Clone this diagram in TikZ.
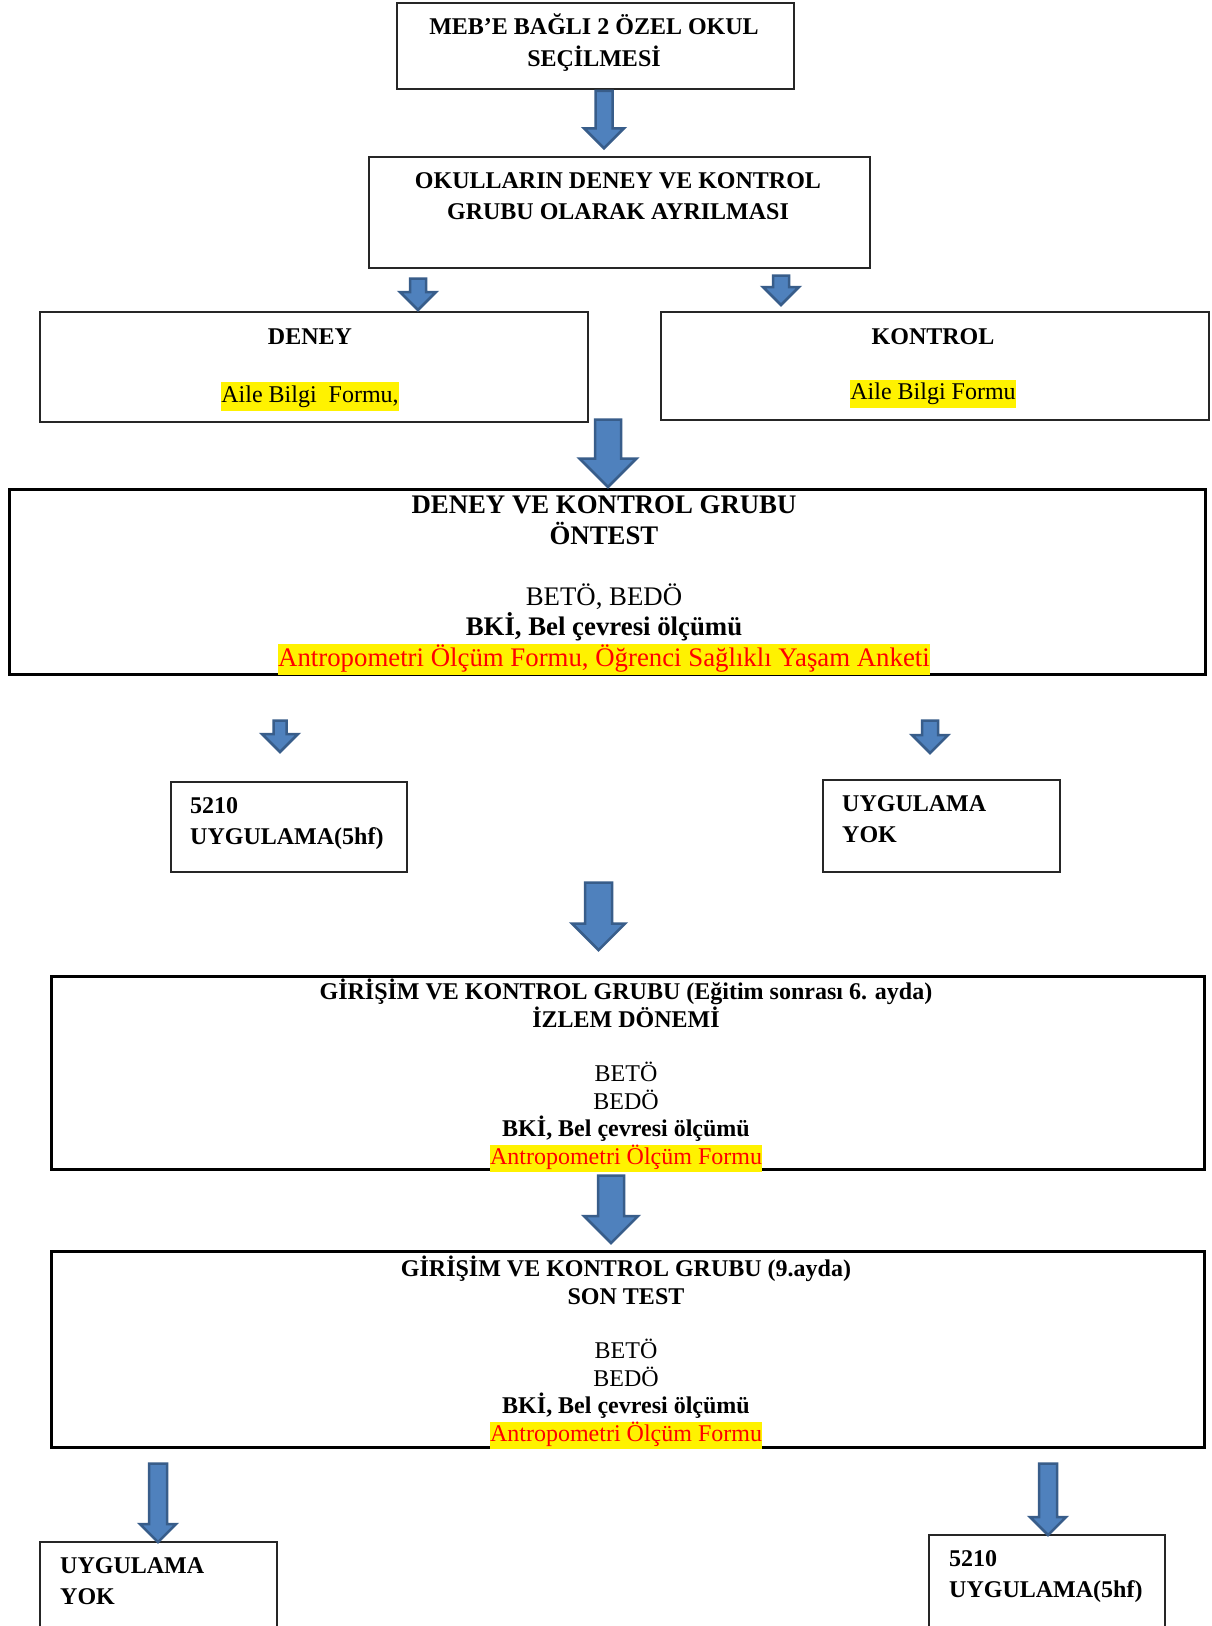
\documentclass[tikz,border=0pt]{standalone}
\usepackage{fontspec}
\setmainfont{Liberation Serif}
\usepackage{xcolor}
\usetikzlibrary{shapes.arrows}
\definecolor{arrfill}{HTML}{4F81BD}
\definecolor{arrline}{HTML}{385D8A}
\setlength{\lineskiplimit}{-100pt}
\newcommand{\yel}[1]{{\setlength{\fboxsep}{0pt}\colorbox{yellow}{\strut #1}}}
\newcommand{\fsA}{\fontsize{24}{32}\selectfont}
\newcommand{\fsB}{\fontsize{24}{31}\selectfont}
\newcommand{\fsC}{\fontsize{24}{29}\selectfont}
\newcommand{\fsD}{\fontsize{24}{27.4}\selectfont}
\newcommand{\fsE}{\fontsize{26.8}{30.5}\selectfont}
\newcommand{\fsF}{\fontsize{24}{31}\selectfont}
\tikzset{
  box/.style={draw=black!85, line width=1.5pt, anchor=north west, inner sep=0pt},
  bigbox/.style={box, draw=black, line width=2.5pt},
  txt/.style={anchor=north, align=center, inner sep=0pt},
  ltxt/.style={anchor=north west, align=left, inner sep=0pt, font=\fsF\bfseries},
  blockarr/.style n args={3}{single arrow, draw=arrline, fill=arrfill, line width=2.5pt,
    rotate=-90, anchor=tail, minimum height=#1, inner sep=#2, single arrow head extend=#3}}

\begin{document}
\begin{tikzpicture}[x=1pt, y=-1pt]
  \clip (0,0) rectangle (1211,1626);
  \fill[white] (0,0) rectangle (1211,1626);

  % boxes
  \node[box, minimum width=397, minimum height=86] (meb) at (396,2) {};
  \node[box, minimum width=501, minimum height=111] (ayr) at (368,156) {};
  \node[box, minimum width=548, minimum height=110] (deney) at (39,311) {};
  \node[box, minimum width=548, minimum height=108] (kontrol) at (660,311) {};
  \node[bigbox, minimum width=1196, minimum height=185] (ontest) at (8,488) {};
  \node[box, minimum width=236, minimum height=90] (uyg) at (170,781) {};
  \node[box, minimum width=237, minimum height=92] (yok) at (822,779) {};
  \node[bigbox, minimum width=1153, minimum height=193] (izlem) at (50,975) {};
  \node[bigbox, minimum width=1153, minimum height=196] (son) at (50,1250) {};
  \node[box, minimum width=237, minimum height=120] (yokb) at (39,1541) {};
  \node[box, minimum width=236, minimum height=120] (uygb) at (928,1534) {};

  % texts
  \node[txt, font=\fsA\bfseries] (mebt) at (594,12) {\strut MEB’E BAĞLI 2 ÖZEL OKUL\\SEÇİLMESİ};
  \node[txt, font=\fsB\bfseries] (ayrt) at (618,167) {\strut OKULLARIN DENEY VE KONTROL\\GRUBU OLARAK AYRILMASI};
  \node[txt, font=\fsC] (deneyt) at (310,324) {\strut\textbf{DENEY}\\ \strut\\ \yel{Aile Bilgi~ Formu,}};
  \node[txt, font=\fontsize{24}{27.5}\selectfont] (kontrolt) at (933,325) {\strut\textbf{KONTROL}\\ \strut\\ \yel{Aile Bilgi Formu}};
  \node[txt, font=\fsE] (ontestt) at (604,492) {\strut\textbf{DENEY VE KONTROL GRUBU}\\ \textbf{ÖNTEST}\\ \strut\\
    BETÖ, BEDÖ\\ \textbf{BKİ, Bel çevresi ölçümü}\\
    \yel{\textcolor{red}{Antropometri Ölçüm Formu, Öğrenci Sağlıklı Yaşam Anketi}}};
  \node[ltxt] (uygt) at (190,792) {\strut 5210\\UYGULAMA(5hf)};
  \node[ltxt] (yokt) at (842,790) {\strut UYGULAMA\\YOK};
  \node[txt, font=\fsD] (izlemt) at (626,979) {\strut\textbf{GİRİŞİM VE KONTROL GRUBU (Eğitim sonrası 6. ayda)}\\
    \textbf{İZLEM DÖNEMİ}\\ \strut\\ BETÖ\\ BEDÖ\\ \textbf{BKİ, Bel çevresi ölçümü}\\
    \yel{\textcolor{red}{Antropometri Ölçüm Formu}}};
  \node[txt, font=\fsD] (sont) at (626,1256) {\strut\textbf{GİRİŞİM VE KONTROL GRUBU (9.ayda)}\\
    \textbf{SON TEST}\\ \strut\\ BETÖ\\ BEDÖ\\ \textbf{BKİ, Bel çevresi ölçümü}\\
    \yel{\textcolor{red}{Antropometri Ölçüm Formu}}};
  \node[ltxt] (yokbt) at (60,1552) {\strut UYGULAMA\\YOK};
  \node[ltxt] (uygbt) at (949,1545) {\strut 5210\\UYGULAMA(5hf)};

  % block arrows
  \node[blockarr={57.5}{7.25}{11.5}] (a1) at (604,89.5) {};
  \node[blockarr={31.5}{6.75}{10}] (a2) at (418,277.25) {};
  \node[blockarr={29.5}{6.75}{10}] (a3) at (781,274.25) {};
  \node[blockarr={67.5}{11.75}{15.5}] (a4) at (608,418.25) {};
  \node[blockarr={31.5}{5.25}{11.5}] (a5) at (280,719.25) {};
  \node[blockarr={32.5}{6.75}{10}] (a6) at (930,719.25) {};
  \node[blockarr={67.5}{12.25}{13}] (a7) at (598.5,881.25) {};
  \node[blockarr={67.5}{11.75}{14}] (a8) at (611,1174.25) {};
  \node[blockarr={78.5}{7.75}{9}] (a9) at (158,1462.25) {};
  \node[blockarr={71.5}{7.75}{9}] (a10) at (1048,1462.25) {};
\end{tikzpicture}
\end{document}
